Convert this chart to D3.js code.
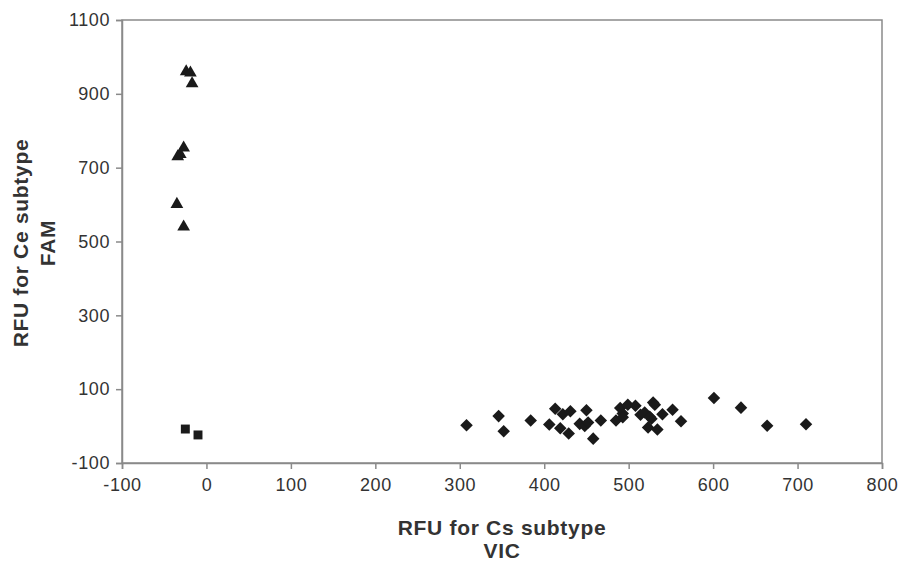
<!DOCTYPE html>
<html>
<head>
<meta charset="utf-8">
<script src="https://cdn.jsdelivr.net/npm/d3@7"></script>
<style>
  body { margin: 0; background: #fff; }
  svg { font-family: Arial, "Liberation Sans", sans-serif; }
</style>
</head>
<body>
<div class="plot"></div>
<script>
// values (VIC, FAM)
const xTicks = [-100, 0, 100, 200, 300, 400, 500, 600, 700, 800];
const yTicks = [-100, 100, 300, 500, 700, 900, 1100];

const triangles = [
  [-24, 960], [-19, 957], [-17, 928],
  [-27, 754], [-31, 736], [-34, 730],
  [-35, 601], [-27, 540]
];

const squares = [[-25, -8], [-10, -24]];

const diamonds = [
  [308, 2], [346, 27], [352, -14], [384, 15], [406, 4], [413, 47],
  [419, -6], [422, 32], [429, -20], [431, 40], [442, 6], [450, 43],
  [448, 0], [452, 10], [458, -34], [467, 15], [485, 15], [490, 49],
  [493, 34], [493, 24], [499, 58], [508, 55], [514, 31], [519, 37],
  [525, 25], [523, -4], [529, 64], [531, 58], [527, 20], [534, -9],
  [540, 32], [552, 44], [562, 13], [601, 76], [633, 50], [664, 1], [710, 5]
];

const width = 898;
const height = 561;
const margin = {left: 122, right: 16, top: 20, bottom: 98};

const svg = d3.select('.plot')
  .append('svg')
  .attr('width', width)
  .attr('height', height)

const x = d3.scaleLinear().domain([-100, 800]).range([margin.left, width - margin.right]);
const y = d3.scaleLinear().domain([-100, 1100]).range([height - margin.bottom, margin.top]);

// frame
svg.append('rect')
  .attr('x', x(-100))
  .attr('y', y(1100))
  .attr('width', x(800) - x(-100))
  .attr('height', y(-100) - y(1100))
  .attr('fill', 'none')
  .attr('stroke', '#8a8a8a')
  .attr('stroke-width', 1.5)

svg.append('g')
  .attr('transform', 'translate(0,' + y(-100) + ')')
  .call(d3.axisBottom(x).tickValues(xTicks).tickSize(6).tickPadding(9).tickFormat(d => String(d)))
svg.append('g')
  .attr('transform', 'translate(' + x(-100) + ',0)')
  .call(d3.axisLeft(y).tickValues(yTicks).tickSize(6).tickPadding(6).tickFormat(d => String(d)))

svg.selectAll('.domain').attr('stroke', '#8a8a8a').attr('stroke-width', 1.5)
svg.selectAll('.tick line').attr('stroke', '#8a8a8a').attr('stroke-width', 1.5)
svg.selectAll('.tick text')
  .attr('fill', '#333')
  .attr('font-size', '18px')
  .attr('letter-spacing', '0.6px')
  .attr('font-family', 'Arial, "Liberation Sans", sans-serif')

// axis titles
const xTitle = svg.append('text')
  .attr('text-anchor', 'middle')
  .attr('font-weight', 'bold')
  .attr('font-size', '21px')
  .attr('letter-spacing', '0.7px')
  .attr('fill', '#333')
xTitle.append('tspan').attr('x', 502).attr('y', 535).text('RFU for Cs subtype')
xTitle.append('tspan').attr('x', 502).attr('y', 558).text('VIC')

const yTitle = svg.append('text')
  .attr('text-anchor', 'middle')
  .attr('font-weight', 'bold')
  .attr('font-size', '21px')
  .attr('letter-spacing', '0.7px')
  .attr('fill', '#333')
  .attr('transform', 'translate(28,243) rotate(-90)')
yTitle.append('tspan').attr('x', 0).attr('y', 0).text('RFU for Ce subtype')
yTitle.append('tspan').attr('x', 0).attr('y', 27).text('FAM')

const mark = '#1a1a1a';

svg.selectAll('.diamond')
  .data(diamonds)
  .enter()
  .append('path')
  .attr('class', 'diamond')
  .attr('d', d3.symbol().type(d3.symbolDiamond2).size(100))
  .attr('transform', d => 'translate(' + x(d[0]) + ',' + y(d[1]) + ')')
  .attr('fill', mark)

svg.selectAll('.square')
  .data(squares)
  .enter()
  .append('path')
  .attr('class', 'square')
  .attr('d', d3.symbol().type(d3.symbolSquare).size(80))
  .attr('transform', d => 'translate(' + x(d[0]) + ',' + y(d[1]) + ')')
  .attr('fill', mark)

svg.selectAll('.triangle')
  .data(triangles)
  .enter()
  .append('path')
  .attr('class', 'triangle')
  .attr('d', d3.symbol().type(d3.symbolTriangle).size(70))
  .attr('transform', d => 'translate(' + x(d[0]) + ',' + y(d[1]) + ')')
  .attr('fill', mark)
</script>
</body>
</html>
